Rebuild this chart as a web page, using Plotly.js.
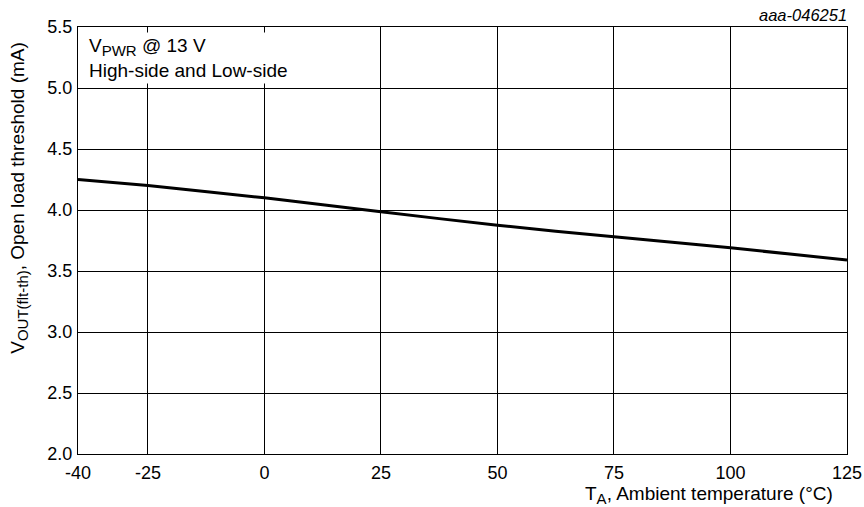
<!DOCTYPE html>
<html>
<head>
<meta charset="utf-8">
<script src="https://cdn.plot.ly/plotly-3.0.1.min.js"></script>
<style>html,body{margin:0;padding:0;background:#fff;}#chart{width:864px;height:507px;}</style>
</head>
<body>
<div id="chart"></div>
<script>
// Data
var temperature = [-40, -25, 0, 25, 50, 75, 100, 125];
var threshold = [4.25, 4.20, 4.10, 3.985, 3.875, 3.78, 3.69, 3.59];
var xTickVals = [-40, -25, 0, 25, 50, 75, 100, 125];
var xTickText = ['-40', '-25', '0', '25', '50', '75', '100', '125'];
var yTickVals = [2.0, 2.5, 3.0, 3.5, 4.0, 4.5, 5.0, 5.5];
var yTickText = ['2.0', '2.5', '3.0', '3.5', '4.0', '4.5', '5.0', '5.5'];

var FONT = 'Liberation Sans, Arial, sans-serif';

var trace = {
  x: temperature,
  y: threshold,
  type: 'scatter',
  mode: 'lines',
  line: {color: '#000', width: 3, shape: 'spline', smoothing: 0.6},
  hoverinfo: 'skip'
};

var layout = {
  width: 864, height: 507,
  margin: {l: 78, r: 17, t: 27, b: 53},
  paper_bgcolor: '#fff', plot_bgcolor: '#fff',
  showlegend: false,
  font: {family: FONT, color: '#000', size: 18},
  xaxis: {
    range: [-40, 125], tickvals: xTickVals, ticktext: xTickText,
    showgrid: true, gridcolor: '#000', gridwidth: 1,
    showline: true, linecolor: '#000', linewidth: 1, mirror: true,
    zeroline: false, ticks: '', ticklen: 0, ticklabelstandoff: 2,
    tickfont: {family: FONT, size: 18, color: '#000'}
  },
  yaxis: {
    range: [2, 5.5], tickvals: yTickVals, ticktext: yTickText,
    showgrid: true, gridcolor: '#000', gridwidth: 1,
    showline: true, linecolor: '#000', linewidth: 1, mirror: true,
    zeroline: false, ticks: '', ticklen: 0, ticklabelstandoff: 1,
    tickfont: {family: FONT, size: 18, color: '#000'}
  },
  annotations: [
    {
      text: 'T<sub><span style="font-size:15px">A</span></sub>, Ambient temperature (°C)',
      xref: 'paper', yref: 'paper', x: 1, y: 0,
      xanchor: 'right', yanchor: 'middle', xshift: -12, yshift: -41,
      showarrow: false, font: {family: FONT, size: 19, color: '#000'}
    },
    {
      text: 'V<sub><span style="font-size:15px">OUT(flt-th)</span></sub>, Open load threshold (mA)',
      xref: 'paper', yref: 'paper', x: 0, y: 0.600,
      xanchor: 'center', yanchor: 'middle', xshift: -59,
      textangle: -90,
      showarrow: false, font: {family: FONT, size: 19, color: '#000'}
    },
    {
      text: '<i>aaa-046251</i>',
      xref: 'paper', yref: 'paper', x: 1, y: 1,
      xanchor: 'right', yanchor: 'middle', xshift: 2, yshift: 12,
      showarrow: false, font: {family: FONT, size: 16.5, color: '#000'}
    },
    {
      text: 'V<sub><span style="font-size:15px">PWR</span></sub> @ 13 V<br>High-side and Low-side',
      xref: 'paper', yref: 'paper', x: 0, y: 1,
      xanchor: 'left', yanchor: 'top', xshift: 8, yshift: -5,
      align: 'left', bgcolor: '#fff', borderpad: 2,
      showarrow: false, font: {family: FONT, size: 19, color: '#000'}
    }
  ]
};

Plotly.newPlot('chart', [trace], layout, {displayModeBar: false, staticPlot: true});
</script>
</body>
</html>
